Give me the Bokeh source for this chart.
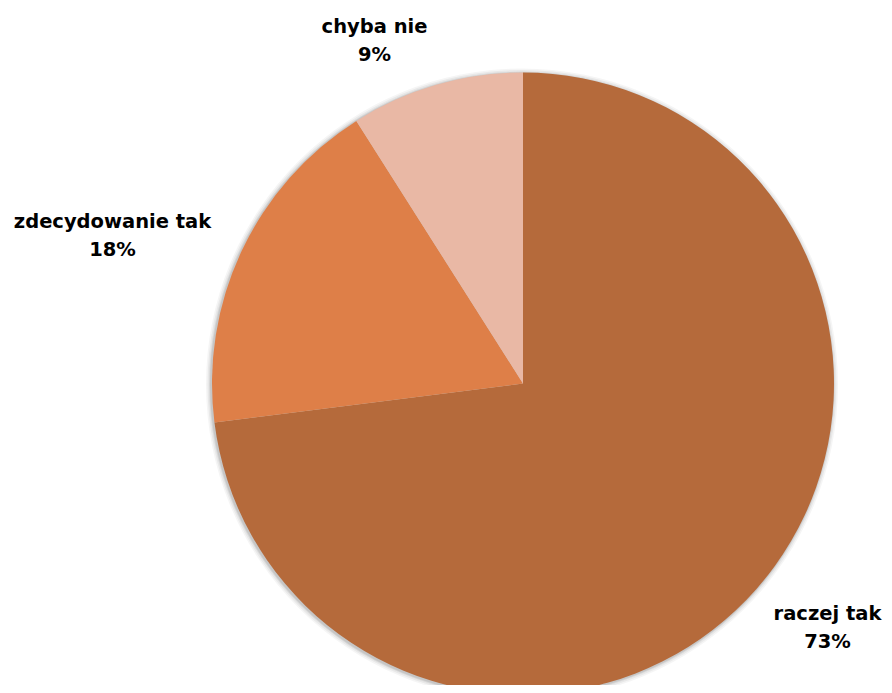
import numpy as np
from bokeh.plotting import figure
from bokeh.models import Range1d, ColumnDataSource
from bokeh.core.properties import value
from bokeh.embed import file_html
from bokeh.resources import INLINE

# data
categories = ["raczej tak", "zdecydowanie tak", "chyba nie"]
values = [73, 18, 9]
colors = ["#B56A3B", "#DE7F48", "#E9B8A5"]

# layout (pixels, measured from the top-left of the canvas)
W, H = 884, 685
cx, cy, r = 522.5, H - 383, 311
label_pos = {"raczej tak": (827, H - 627), "zdecydowanie tak": (112, H - 235), "chyba nie": (374, H - 40)}

vals = np.array(values, dtype=float)
frac = vals / vals.sum()
ends = np.pi / 2 - 2 * np.pi * np.cumsum(frac)
starts = np.concatenate([[np.pi / 2], ends[:-1]])

p = figure(width=W, height=H, output_backend="svg", toolbar_location=None,
           x_range=Range1d(0, W), y_range=Range1d(0, H), min_border=0)
p.axis.visible = False
p.grid.visible = False
p.outline_line_color = None
p.background_fill_color = "white"

# soft shadow
for dr, a in [(5, 0.04), (3.5, 0.05), (2, 0.07), (1, 0.08)]:
    p.circle(x=[cx - 1], y=[cy - 1], radius=r + dr, fill_color="black", fill_alpha=a, line_color=None)

src = ColumnDataSource(dict(start=starts, end=ends, color=colors, cat=categories))
p.wedge(x=cx, y=cy, radius=r, start_angle="start", end_angle="end", direction="clock",
        fill_color="color", line_color=None, source=src)

lx, ly, lt = [], [], []
for c, v in zip(categories, values):
    x, y = label_pos[c]
    lx.append(x); ly.append(y); lt.append(f"{c}\n{v}%")
p.text(x=lx, y=ly, text=lt, text_font=value("DejaVu Sans"), text_font_style="bold",
       text_font_size="19.5px", text_align="center", text_baseline="middle",
       text_line_height=1.25, text_color="black")

open("out.html", "w").write(file_html(p, INLINE))
